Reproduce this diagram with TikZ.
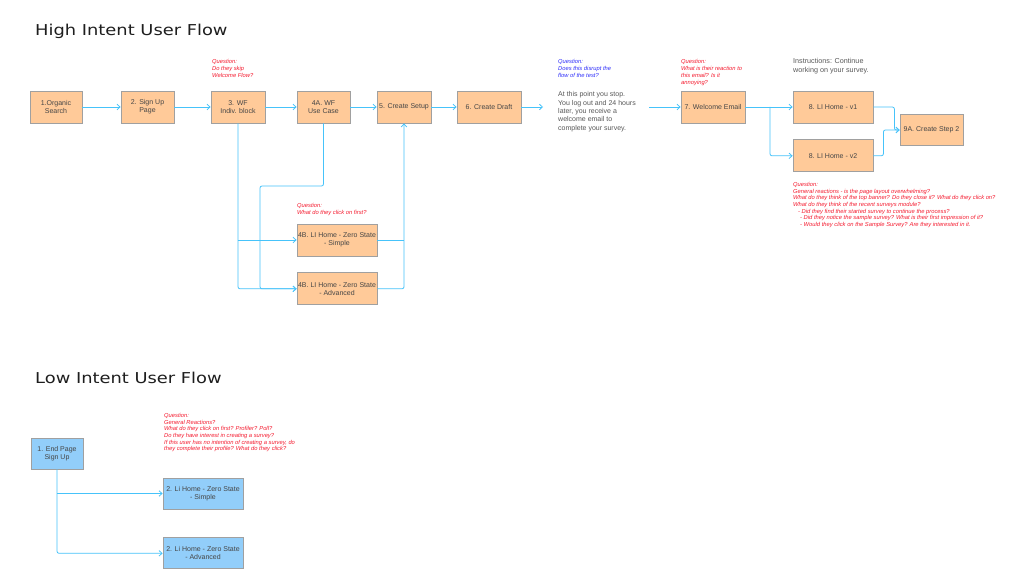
\documentclass[tikz,border=0pt]{standalone}
\usepackage{fontspec}
\setmainfont{Liberation Sans}
\newfontfamily\headfont[FakeStretch=1.19]{DejaVu Sans}
\usetikzlibrary{
  arrows.meta,
  positioning
}
\definecolor{screenfill}{RGB}{255,202,153}
\definecolor{lowfill}{RGB}{146,206,250}
\definecolor{edgegray}{RGB}{160,160,160}
\definecolor{flowblue}{RGB}{70,195,250}
\definecolor{askred}{RGB}{245,25,45}
\definecolor{askblue}{RGB}{45,45,250}
\definecolor{inkgray}{RGB}{70,70,70}
\definecolor{headink}{RGB}{30,30,30}
\tikzset{
  screen/.style={draw=edgegray,line width=0.8pt,fill=screenfill,
    minimum height=32pt,inner sep=1pt,align=center,text=inkgray,
    font=\fontsize{7}{8.3}\selectfont},
  lowscreen/.style={screen,fill=lowfill},
  ask/.style={anchor=north west,inner sep=0pt,align=left,text=askred,
    font=\fontsize{5.8}{6.7}\selectfont\itshape},
  askblue/.style={ask,text=askblue},
  note/.style={anchor=north west,inner sep=0pt,align=left,text=inkgray!90,
    font=\fontsize{7}{8.4}\selectfont},
  heading/.style={anchor=base west,inner sep=0pt,text=headink,
    font=\headfont\fontsize{15}{18}\selectfont},
  userflow/.style={-{Straight Barb[length=3pt,width=5.5pt]},line width=0.8pt,
    draw=flowblue,rounded corners=2pt}
}

\begin{document}
\begin{tikzpicture}[x=1pt,y=-1pt]
  \useasboundingbox (0,0) rectangle (1020,588);
  \fill[white] (0,0) rectangle (1020,588);
  % high intent
  \node[heading] (hightitle) at (35,36) {High Intent User Flow};
  \node[screen,minimum width=52pt] (organic) at (56,107) {1.Organic\\Search};
  \node[screen,minimum width=53pt] (signup) at (147.5,107) {2. Sign Up\\Page};
  \node[screen,minimum width=54pt] (wf) at (238,107) {3. WF\\Indiv. block};
  \node[screen,minimum width=53pt] (usecase) at (323.5,107) {4A. WF\\Use Case};
  \node[screen,minimum width=54pt] (setup) at (404,107) {5. Create Setup};
  \node[screen,minimum width=64pt] (draft) at (489,107) {6. Create Draft};
  \node[screen,minimum width=64pt] (email) at (713,107) {7. Welcome Email};
  \node[screen,minimum width=80pt] (homeone) at (833,107) {8. LI Home - v1};
  \node[screen,minimum width=80pt,below=16pt of homeone] (hometwo) {8. LI Home - v2};
  \node[screen,minimum width=63pt,minimum height=31pt] (steptwo) at (931.5,130) {9A. Create Step 2};
  \node[screen,minimum width=80pt] (simple) at (337,240) {4B. LI Home - Zero State\\- Simple};
  \node[screen,minimum width=80pt,below=16pt of simple] (advanced) {4B. LI Home - Zero State\\- Advanced};

  \node[ask] (skipq) at (212,59.5) {Question:\\Do they skip\\Welcome Flow?};
  \node[askblue] (disruptq) at (558,59.5) {Question:\\Does this disrupt the\\flow of the test?};
  \node[ask] (reactq) at (681,59.5) {Question:\\What is their reaction to\\this email? Is it\\annoying?};
  \node[ask] (firstq) at (297,203) {Question:\\What do they click on first?};
  \node[note] (pausenote) at (558,91.5) {At this point you stop.\\You log out and 24 hours\\later, you receive a\\welcome email to\\complete your survey.};
  \node[note,font=\fontsize{7.2}{9}\selectfont] (instr) at (793,58.5) {Instructions: Continue\\working on your survey.};
  \node[ask] (homeq) at (793,182) {Question:\\
    General reactions - is the page layout overwhelming?\\
    What do they think of the top banner? Do they close it? What do they click on?\\
    What do they think of the recent surveys module?\\
    \hspace{5pt}- Did they find their started survey to continue the process?\\
    \hspace{7pt}- Did they notice the sample survey? What is their first impression of it?\\
    \hspace{7pt}- Would they click on the Sample Survey? Are they interested in it.};

  \coordinate (pause) at (543,107);
  \coordinate (resume) at (649,107);
  \coordinate (split) at (770,107);
  \coordinate (bend) at (260,186);

  \draw[userflow] (organic)--(signup);
  \draw[userflow] (signup)--(wf);
  \draw[userflow] (wf)--(usecase);
  \draw[userflow] (usecase)--(setup);
  \draw[userflow] (setup)--(draft);
  \draw[userflow] (draft)--(pause);
  \draw[userflow] (resume)--(email);
  \draw[userflow] (email)--(homeone);
  \draw[userflow] (split) |- (hometwo.west);
  \draw[userflow] (homeone.east) -- ++(21,0) |- (steptwo.west);
  \draw[userflow] (hometwo.east) -- ++(10,0) |- (steptwo.west);
  \draw[userflow] (wf.south) |- (advanced.west);
  \draw[userflow] (wf.south |- simple.west) -- (simple.west);
  \draw[userflow] (usecase.south) |- (bend) |- (advanced.west);
  \draw[userflow] (advanced.east) -| (setup.south);
  \draw[userflow,-] (simple.east) -- (simple.east -| setup.south);

  % low intent
  \node[heading] (lowtitle) at (35,383) {Low Intent User Flow};
  \node[lowscreen,minimum width=52pt,minimum height=31pt] (endpage) at (57,453.5) {1. End Page\\Sign Up};
  \node[lowscreen,minimum width=80pt,minimum height=31pt] (lowsimple) at (203,493.5) {2. Li Home - Zero State\\- Simple};
  \node[lowscreen,minimum width=80pt,minimum height=31pt,below=28pt of lowsimple] (lowadv) {2. Li Home - Zero State\\- Advanced};
  \node[ask] (lowq) at (164,413) {Question:\\General Reactions?\\
    What do they click on first? Profiler? Poll?\\
    Do they have interest in creating a survey?\\
    If this user has no intention of creating a survey, do\\
    they complete their profile? What do they click?};

  \draw[userflow] (endpage.south) |- (lowadv.west);
  \draw[userflow] (endpage.south |- lowsimple.west) -- (lowsimple.west);
\end{tikzpicture}
\end{document}
